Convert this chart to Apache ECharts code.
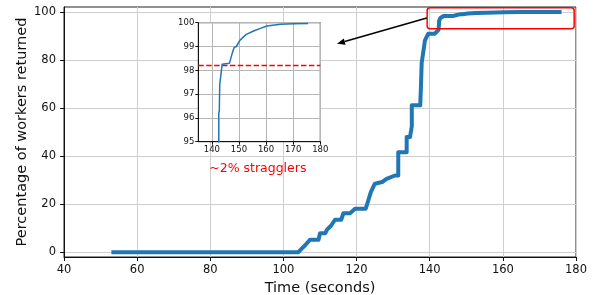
<!DOCTYPE html>
<html><head><meta charset="utf-8">
<script src="https://cdn.jsdelivr.net/npm/echarts@6/dist/echarts.min.js"></script>
<style>html,body{margin:0;padding:0;background:#fff}#c{width:593px;height:295px}</style>
</head><body><div id="c"></div>
<script>
// ---- data ----
const timeSec = [53.5,104.1,105,106,107.3,109.6,110.0,111.4,112,113,114.1,115.8,116.4,118.2,119.6,122.5,123.2,123.9,125.0,127.0,128.2,130.5,131.4,131.4,133.7,133.7,134.6,135.1,135.1,137.4,137.6,137.8,138.7,139.6,141.4,142.4,142.55,142.55,142.75,142.9,143.8,146.5,147.4,148.2,149.0,150.4,152.7,155.4,157.9,160.3,165.3,170.2,175.5];
const pctReturned = [0,0,1.5,3,5.2,5.2,7.9,7.9,9.5,11,13.5,13.5,16.2,16.2,18.1,18.1,21.5,25,28.5,29.2,30.5,31.9,31.9,41.6,41.6,47.9,47.9,52.3,61.1,61.1,68.7,78.7,88.1,90.9,90.9,92.5,95,96.2,96.3,97.4,98.25,98.3,98.67,98.95,99.0,99.27,99.51,99.65,99.76,99.86,99.93,99.96,99.97];
const mainXTicks = [40,60,80,100,120,140,160,180];
const mainYTicks = [0,20,40,60,80,100];
const insetXTicks = [140,150,160,170,180];
const insetYTicks = [95,96,97,98,99,100];
const thresholdX = [135,180];
const thresholdY = [98.2,98.2];
const stragglerLabel = '~2% stragglers';
const xTitle = 'Time (seconds)';
const yTitle = 'Percentage of workers returned';

const FONT = 'DejaVu Sans';
const pts = timeSec.map((t,i)=>[t,pctReturned[i]]);
const thr = thresholdX.map((t,i)=>[t,thresholdY[i]]);

const chart = echarts.init(document.getElementById('c'), null, {renderer:'canvas'});
chart.setOption({
  animation:false,
  backgroundColor:'#fff',
  grid:[
    {left:64, right:17, top:7, bottom:38, show:true, borderColor:'#222', borderWidth:1, backgroundColor:'transparent', z:0, containLabel:false, outerBoundsMode:'none'},
    {left:198.3, width:122, top:22.7, height:119, show:true, borderColor:'#222', borderWidth:1, backgroundColor:'#fff', z:10, containLabel:false, outerBoundsMode:'none'}
  ],
  xAxis:[
    {gridIndex:0, type:'value', min:40, max:180, interval:20,
     name:xTitle, nameLocation:'middle', nameGap:23,
     nameTextStyle:{fontFamily:FONT, fontSize:14.5, color:'#111'},
     axisLine:{show:true, onZero:false, lineStyle:{color:'#111', width:1}},
     axisTick:{show:true, length:4, lineStyle:{color:'#111'}, customValues:mainXTicks},
     axisLabel:{fontFamily:FONT, fontSize:11.5, color:'#111', margin:7, customValues:mainXTicks},
     splitLine:{show:true, lineStyle:{color:'#cfcfcf', width:1}}, z:1},
    {gridIndex:1, type:'value', min:135, max:180,
     axisLine:{show:true, onZero:false, lineStyle:{color:'#111', width:1}},
     axisTick:{show:true, length:3, lineStyle:{color:'#111'}, customValues:insetXTicks},
     axisLabel:{fontFamily:FONT, fontSize:8.5, color:'#111', margin:4, customValues:insetXTicks},
     splitLine:{show:true, lineStyle:{color:'#b5b5b5', width:1}}, z:11}
  ],
  yAxis:[
    {gridIndex:0, type:'value', min:-2, max:102,
     name:yTitle, nameLocation:'middle', nameGap:34, nameMoveOverlap:false,
     nameTextStyle:{fontFamily:FONT, fontSize:14.5, color:'#111'},
     axisLine:{show:true, onZero:false, lineStyle:{color:'#111', width:1}},
     axisTick:{show:true, length:4, lineStyle:{color:'#111'}, customValues:mainYTicks},
     axisLabel:{fontFamily:FONT, fontSize:11.5, color:'#111', margin:8, customValues:mainYTicks},
     splitLine:{show:true, lineStyle:{color:'#cfcfcf', width:1}}, z:1},
    {gridIndex:1, type:'value', min:95, max:100, interval:1,
     axisLine:{show:true, onZero:false, lineStyle:{color:'#111', width:1}},
     axisTick:{show:true, length:3, lineStyle:{color:'#111'}},
     axisLabel:{fontFamily:FONT, fontSize:8.5, color:'#111', margin:4},
     splitLine:{show:true, lineStyle:{color:'#b5b5b5', width:1}}, z:11}
  ],
  series:[
    {type:'line', xAxisIndex:0, yAxisIndex:0, data:pts, showSymbol:false, symbol:'none',
     lineStyle:{color:'#1f77b4', width:4, cap:'square', join:'round'}, z:3, clip:false},
    {type:'line', xAxisIndex:1, yAxisIndex:1, data:thr, showSymbol:false, symbol:'none',
     lineStyle:{color:'#ff0000', width:1.5, type:[5.5,2.4]}, z:12},
    {type:'line', xAxisIndex:1, yAxisIndex:1, data:pts, showSymbol:false, symbol:'none',
     lineStyle:{color:'#1f77b4', width:1.5, join:'round'}, z:13, clip:true}
  ]
});

// annotations positioned through the main axes
const P = (x,y)=>chart.convertToPixel({gridIndex:0},[x,y]);
const b0 = P(139.3,101.7), b1 = P(179.5,93.0);
const a0 = P(139.2,97.4), a1 = P(114.65,86.7);
const dx = a1[0]-a0[0], dy = a1[1]-a0[1], L = Math.hypot(dx,dy);
const ux = dx/L, uy = dy/L, hl = 8, hw = 3.2;
const base = [a1[0]-ux*hl, a1[1]-uy*hl];
const head = [a1, [base[0]-uy*hw, base[1]+ux*hw], [base[0]+uy*hw, base[1]-ux*hw]];
const tp = P(93.0,34.6);
chart.setOption({
  graphic:[
    {type:'rect', shape:{x:b0[0], y:b0[1], width:b1[0]-b0[0], height:b1[1]-b0[1], r:3},
     style:{fill:'none', stroke:'#ff0000', lineWidth:1.5}, z:20},
    {type:'line', shape:{x1:a0[0], y1:a0[1], x2:base[0], y2:base[1]},
     style:{stroke:'#000', lineWidth:1.5}, z:20},
    {type:'polygon', shape:{points:head}, style:{fill:'#000'}, z:20},
    {type:'text', x:tp[0], y:tp[1], style:{text:stragglerLabel, fill:'#ff0000', font:'12.5px "DejaVu Sans"', align:'center', verticalAlign:'middle'}, z:20}
  ]
});
</script></body></html>
